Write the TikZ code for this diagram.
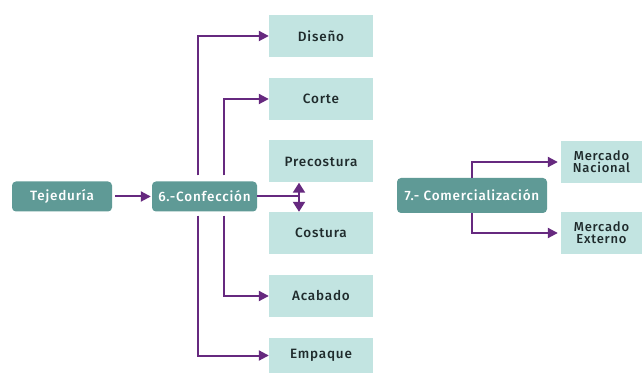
\documentclass[tikz,border=0pt]{standalone}
\usepackage{fontspec}
\setmainfont{Fira Sans}[LetterSpace=6, BoldFont={Fira Sans Medium}]
\usetikzlibrary{arrows.meta}
\definecolor{lightbox}{HTML}{C2E4E1}
\definecolor{darkbox}{HTML}{5F9A96}
\definecolor{arrowc}{HTML}{66297F}
\definecolor{txt}{HTML}{1F2B2C}
\begin{document}
\begin{tikzpicture}[x=1pt,y=-1pt,
  sub/.style={fill=lightbox, minimum width=104pt, minimum height=42pt, inner sep=0pt,
    text=txt, font=\fontsize{13.5}{13}\selectfont\bfseries, align=center},
  mainbox/.style={fill=darkbox, rounded corners=4pt, minimum height=30pt, inner sep=0pt,
    text=white, font=\fontsize{13.5}{14}\selectfont\bfseries},
  link/.style={draw=arrowc, line width=2pt},
  arr/.style={link, -{Triangle[length=10pt,width=10pt]}}]
\useasboundingbox (0,0) rectangle (643,374);
\fill[white] (0,0) rectangle (643,374);

% main process boxes
\node[mainbox, minimum width=100pt] (tej) at (62,196.5) {Tejeduría};
\node[mainbox, minimum width=105pt] (conf) at (204.5,196.5) {6.-Confección};
\node[mainbox, minimum width=150pt, minimum height=35pt] (com) at (472,195.5) {7.- Comercialización};

% stages of Confección
\node[sub] (dis) at (321,36) {Diseño};
\node[sub] (cor) at (321,99) {Corte};
\node[sub] (pre) at (321,161.5) {Precostura};
\node[sub] (cos) at (321,233) {Costura};
\node[sub] (aca) at (321,296) {Acabado};
\node[sub, minimum height=35pt] (emp) at (321,355.5) {Empaque};

% markets
\node[sub, minimum width=81pt, font=\fontsize{13}{12}\selectfont\bfseries] (nac) at (601.5,162) {Mercado\\Nacional};
\node[sub, minimum width=81pt, font=\fontsize{13}{12}\selectfont\bfseries] (ext) at (601.5,233) {Mercado\\Externo};

% connectors
\draw[arr, shorten <=3pt, shorten >=1pt] (tej) -- (conf);

\draw[arr, shorten <=6pt] ([xshift=-6.5pt]conf.north) |- (dis.west);
\draw[arr, shorten <=6pt] ([xshift=19.5pt]conf.north) |- (cor.west);
\draw[arr, shorten <=4pt] ([xshift=19.5pt]conf.south) |- (aca.west);
\draw[arr, shorten <=4pt] ([xshift=-6.5pt]conf.south) |- (emp.west);

\coordinate (dbl) at (299,196.5);
\draw[link] (conf.east) -- (dbl);
\draw[link, {Triangle[length=10pt,width=12pt]}-{Triangle[length=10pt,width=12pt]}] (pre.south -| dbl) -- (cos.north -| dbl);

\draw[arr, shorten >=3pt] (com.north) |- (nac.west);
\draw[arr, shorten >=3pt] (com.south) |- (ext.west);
\end{tikzpicture}
\end{document}
